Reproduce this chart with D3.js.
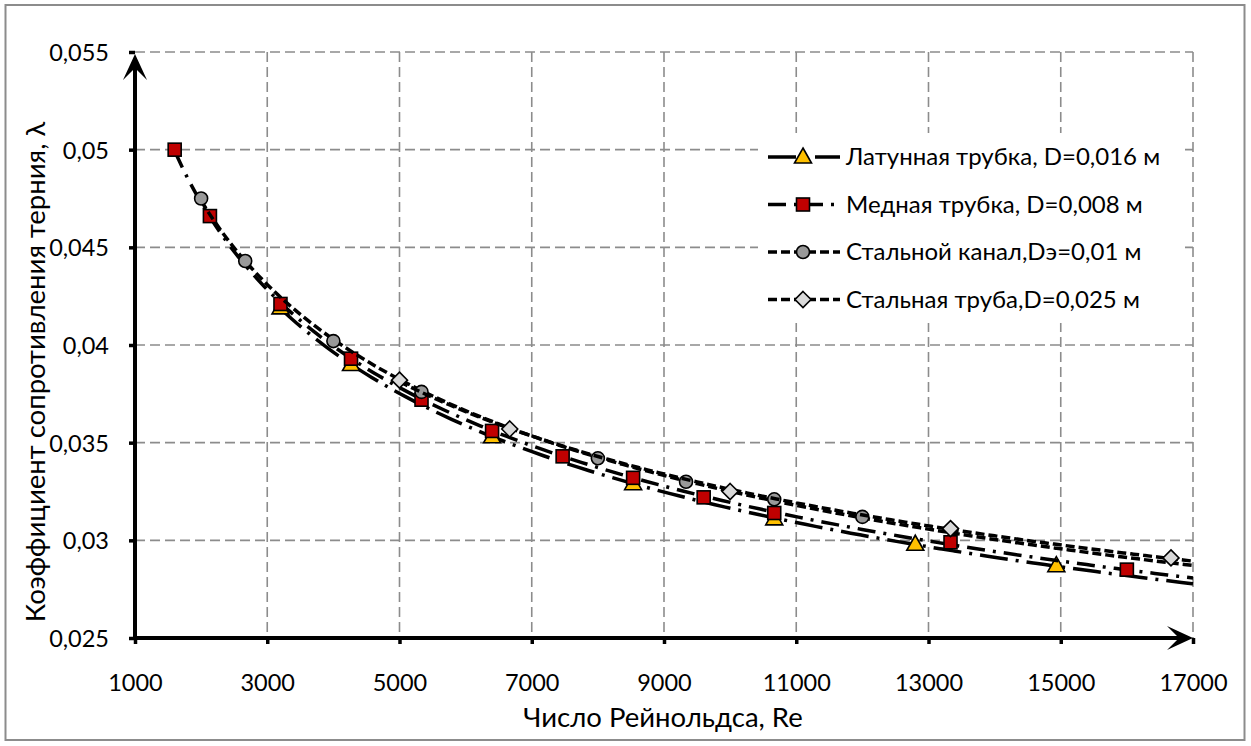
<!DOCTYPE html>
<html>
<head>
<meta charset="utf-8">
<script src="https://cdn.jsdelivr.net/npm/d3@7/dist/d3.min.js"></script>
<style>
  body { margin: 0; background: #fff; }
  svg { display: block; }
  text { font-family: Lato, "Open Sans", sans-serif; fill: #000; }
</style>
</head>
<body>
<svg id="chart" width="1251" height="746"></svg>
<script>
// Axis ticks
const xTicks = [1000, 3000, 5000, 7000, 9000, 11000, 13000, 15000, 17000];
const xTickLabels = ["1000", "3000", "5000", "7000", "9000", "11000", "13000", "15000", "17000"];
const yTicks = [0.025, 0.03, 0.035, 0.04, 0.045, 0.05, 0.055];
const yTickLabels = ["0,025", "0,03", "0,035", "0,04", "0,045", "0,05", "0,055"];

// Series names
const seriesNames = [
  "Латунная трубка, D=0,016 м",
  "Медная трубка, D=0,008 м",
  "Стальной канал,Dэ=0,01 м",
  "Стальная труба,D=0,025 м"
];

// Латунная трубка
const brassRe = [3200, 4267, 6400, 8533, 10667, 12800, 14933];
const brassLambda = [0.0419, 0.0390, 0.0353, 0.0329, 0.0311, 0.0298, 0.0287];
// Медная трубка
const copperRe = [1600, 2133, 3200, 4267, 5333, 6400, 7467, 8533, 9600, 10667, 13333, 16000];
const copperLambda = [0.0500, 0.0466, 0.0421, 0.0393, 0.0372, 0.0356, 0.0343, 0.0332, 0.0322, 0.0314, 0.0299, 0.0285];
// Стальной канал
const channelRe = [2000, 2667, 4000, 5333, 8000, 9333, 10667, 12000];
const channelLambda = [0.0475, 0.0443, 0.0402, 0.0376, 0.0342, 0.0330, 0.0321, 0.0312];
// Стальная труба
const steelRe = [5000, 6667, 10000, 13333, 16667];
const steelLambda = [0.0382, 0.0357, 0.0325, 0.0306, 0.0291];

const svg = d3.select("#chart");
const W = 1251, H = 746;
const plot = { left: 135, right: 1193, top: 52, bottom: 638 };

// Chart frame
svg.append("rect")
  .attr("x", 5.5).attr("y", 5).attr("width", W - 12).attr("height", H - 11)
  .attr("fill", "#fff").attr("stroke", "#8c8c8c").attr("stroke-width", 2);

const x = d3.scaleLinear().domain([1000, 17000]).range([plot.left, plot.right]);
const y = d3.scaleLinear().domain([0.025, 0.055]).range([plot.bottom, plot.top]);

// Grid
const grid = svg.append("g").attr("stroke", "#8c8c8c").attr("stroke-width", 1.6)
  .attr("stroke-dasharray", "10,5").attr("fill", "none");
grid.selectAll("line.v").data(xTicks.slice(1)).join("line").attr("class", "v")
  .attr("x1", d => x(d)).attr("x2", d => x(d))
  .attr("y1", plot.top).attr("y2", plot.bottom);
grid.selectAll("line.h").data(yTicks.slice(1)).join("line").attr("class", "h")
  .attr("x1", plot.left).attr("x2", plot.right)
  .attr("y1", d => y(d)).attr("y2", d => y(d));

// Axes
const xAxis = d3.axisBottom(x).tickValues(xTicks)
  .tickFormat((d, i) => xTickLabels[i]).tickSize(6).tickPadding(12);
const yAxis = d3.axisLeft(y).tickValues(yTicks)
  .tickFormat((d, i) => yTickLabels[i]).tickSize(6).tickPadding(20);

const gx = svg.append("g").attr("transform", `translate(0,${plot.bottom})`).call(xAxis);
const gy = svg.append("g").attr("transform", `translate(${plot.left},0)`).call(yAxis);
[gx, gy].forEach(g => {
  g.select(".domain").remove();
  g.selectAll(".tick line").attr("stroke", "#000").attr("stroke-width", 3.5);
  g.selectAll(".tick text").attr("font-size", 23.5).attr("fill", "#000");
});
gx.selectAll(".tick text").attr("y", 53).attr("dy", 0);
gy.selectAll(".tick text").attr("dy", "0.36em");

// Axis lines with arrowheads
const axisG = svg.append("g");
axisG.append("line").attr("x1", plot.left).attr("x2", plot.left)
  .attr("y1", plot.bottom + 1.5).attr("y2", plot.top + 14)
  .attr("stroke", "#000").attr("stroke-width", 4);
axisG.append("line").attr("x1", plot.left - 1.5).attr("x2", plot.right - 14)
  .attr("y1", plot.bottom).attr("y2", plot.bottom)
  .attr("stroke", "#000").attr("stroke-width", 4);
function arrow(tipX, tipY, angle) {
  // arrow pointing along +x, then rotated
  axisG.append("path")
    .attr("d", "M0,0 L-26,-12 L-14,0 L-26,12 Z")
    .attr("transform", `translate(${tipX},${tipY}) rotate(${angle})`)
    .attr("fill", "#000");
}
arrow(plot.left, plot.top + 2, -90);
arrow(plot.right, plot.bottom, 0);

// Axis titles
svg.append("text").attr("x", 663).attr("y", 727)
  .attr("text-anchor", "middle").attr("font-size", 27.5).text("Число Рейнольдса, Re");
svg.append("text").attr("transform", "translate(45,372) rotate(-90)")
  .attr("text-anchor", "middle").attr("font-size", 27.5).text("Коэффициент сопротивления терния, λ");

// Power-law trend λ = a·Re^b fitted in log-log space
function powerFit(xs, ys) {
  const lx = xs.map(Math.log), ly = ys.map(Math.log);
  const mx = d3.mean(lx), my = d3.mean(ly);
  const b = d3.sum(lx, (v, i) => (v - mx) * (ly[i] - my)) / d3.sum(lx, v => (v - mx) * (v - mx));
  const a = Math.exp(my - b * mx);
  return re => a * Math.pow(re, b);
}

const marker = {
  triangle: g => g.append("path").attr("d", "M0,-9 L8.5,6 L-8.5,6 Z")
    .attr("fill", "#FFC000").attr("stroke", "#000").attr("stroke-width", 1.6),
  square: g => g.append("rect").attr("x", -6.5).attr("y", -6.5).attr("width", 13).attr("height", 13)
    .attr("fill", "#C00000").attr("stroke", "#000").attr("stroke-width", 1.6),
  circle: g => g.append("circle").attr("r", 6.5)
    .attr("fill", "#999999").attr("stroke", "#000").attr("stroke-width", 1.6),
  diamond: g => g.append("path").attr("d", "M0,-8 L8,0 L0,8 L-8,0 Z")
    .attr("fill", "#D9D9D9").attr("stroke", "#000").attr("stroke-width", 1.6)
};

const series = [
  { name: seriesNames[0], re: brassRe, lam: brassLambda, dash: "28,8,3,8", shape: "triangle" },
  { name: seriesNames[1], re: copperRe, lam: copperLambda, dash: "18,8,3,8", shape: "square" },
  { name: seriesNames[2], re: channelRe, lam: channelLambda, dash: "9,4", shape: "circle" },
  { name: seriesNames[3], re: steelRe, lam: steelLambda, dash: "9,4", shape: "diamond" }
];

const line = d3.line().x(d => x(d[0])).y(d => y(d[1])).curve(d3.curveMonotoneX);

series.forEach(s => {
  const g = svg.append("g");
  const f = powerFit(s.re, s.lam);
  const start = d3.min(s.re);
  const samples = d3.range(0, 81).map(i => start + (17000 - start) * i / 80);
  g.append("path").datum(samples.map(re => [re, f(re)]))
    .attr("d", line).attr("fill", "none").attr("stroke", "#000")
    .attr("stroke-width", 3.5).attr("stroke-dasharray", s.dash);
  s.re.forEach((re, i) => {
    const m = g.append("g").attr("transform", `translate(${x(re)},${y(s.lam[i])})`);
    marker[s.shape](m);
  });
});

// Legend
const legendRows = [157, 204.5, 252, 299.5];
const legend = svg.append("g");
legend.append("rect").attr("x", 758).attr("y", 133).attr("width", 422).attr("height", 190).attr("fill", "#fff");
series.forEach((s, i) => {
  const row = legend.append("g").attr("transform", `translate(0,${legendRows[i]})`);
  row.append("line").attr("x1", 768).attr("x2", 840).attr("y1", 0).attr("y2", 0)
    .attr("stroke", "#000").attr("stroke-width", 3.5).attr("stroke-dasharray", s.dash);
  const m = row.append("g").attr("transform", "translate(803,0)");
  marker[s.shape](m);
  row.append("text").attr("x", 846).attr("y", 0).attr("dy", "0.35em")
    .attr("font-size", 24).text(s.name);
});
</script>
</body>
</html>
